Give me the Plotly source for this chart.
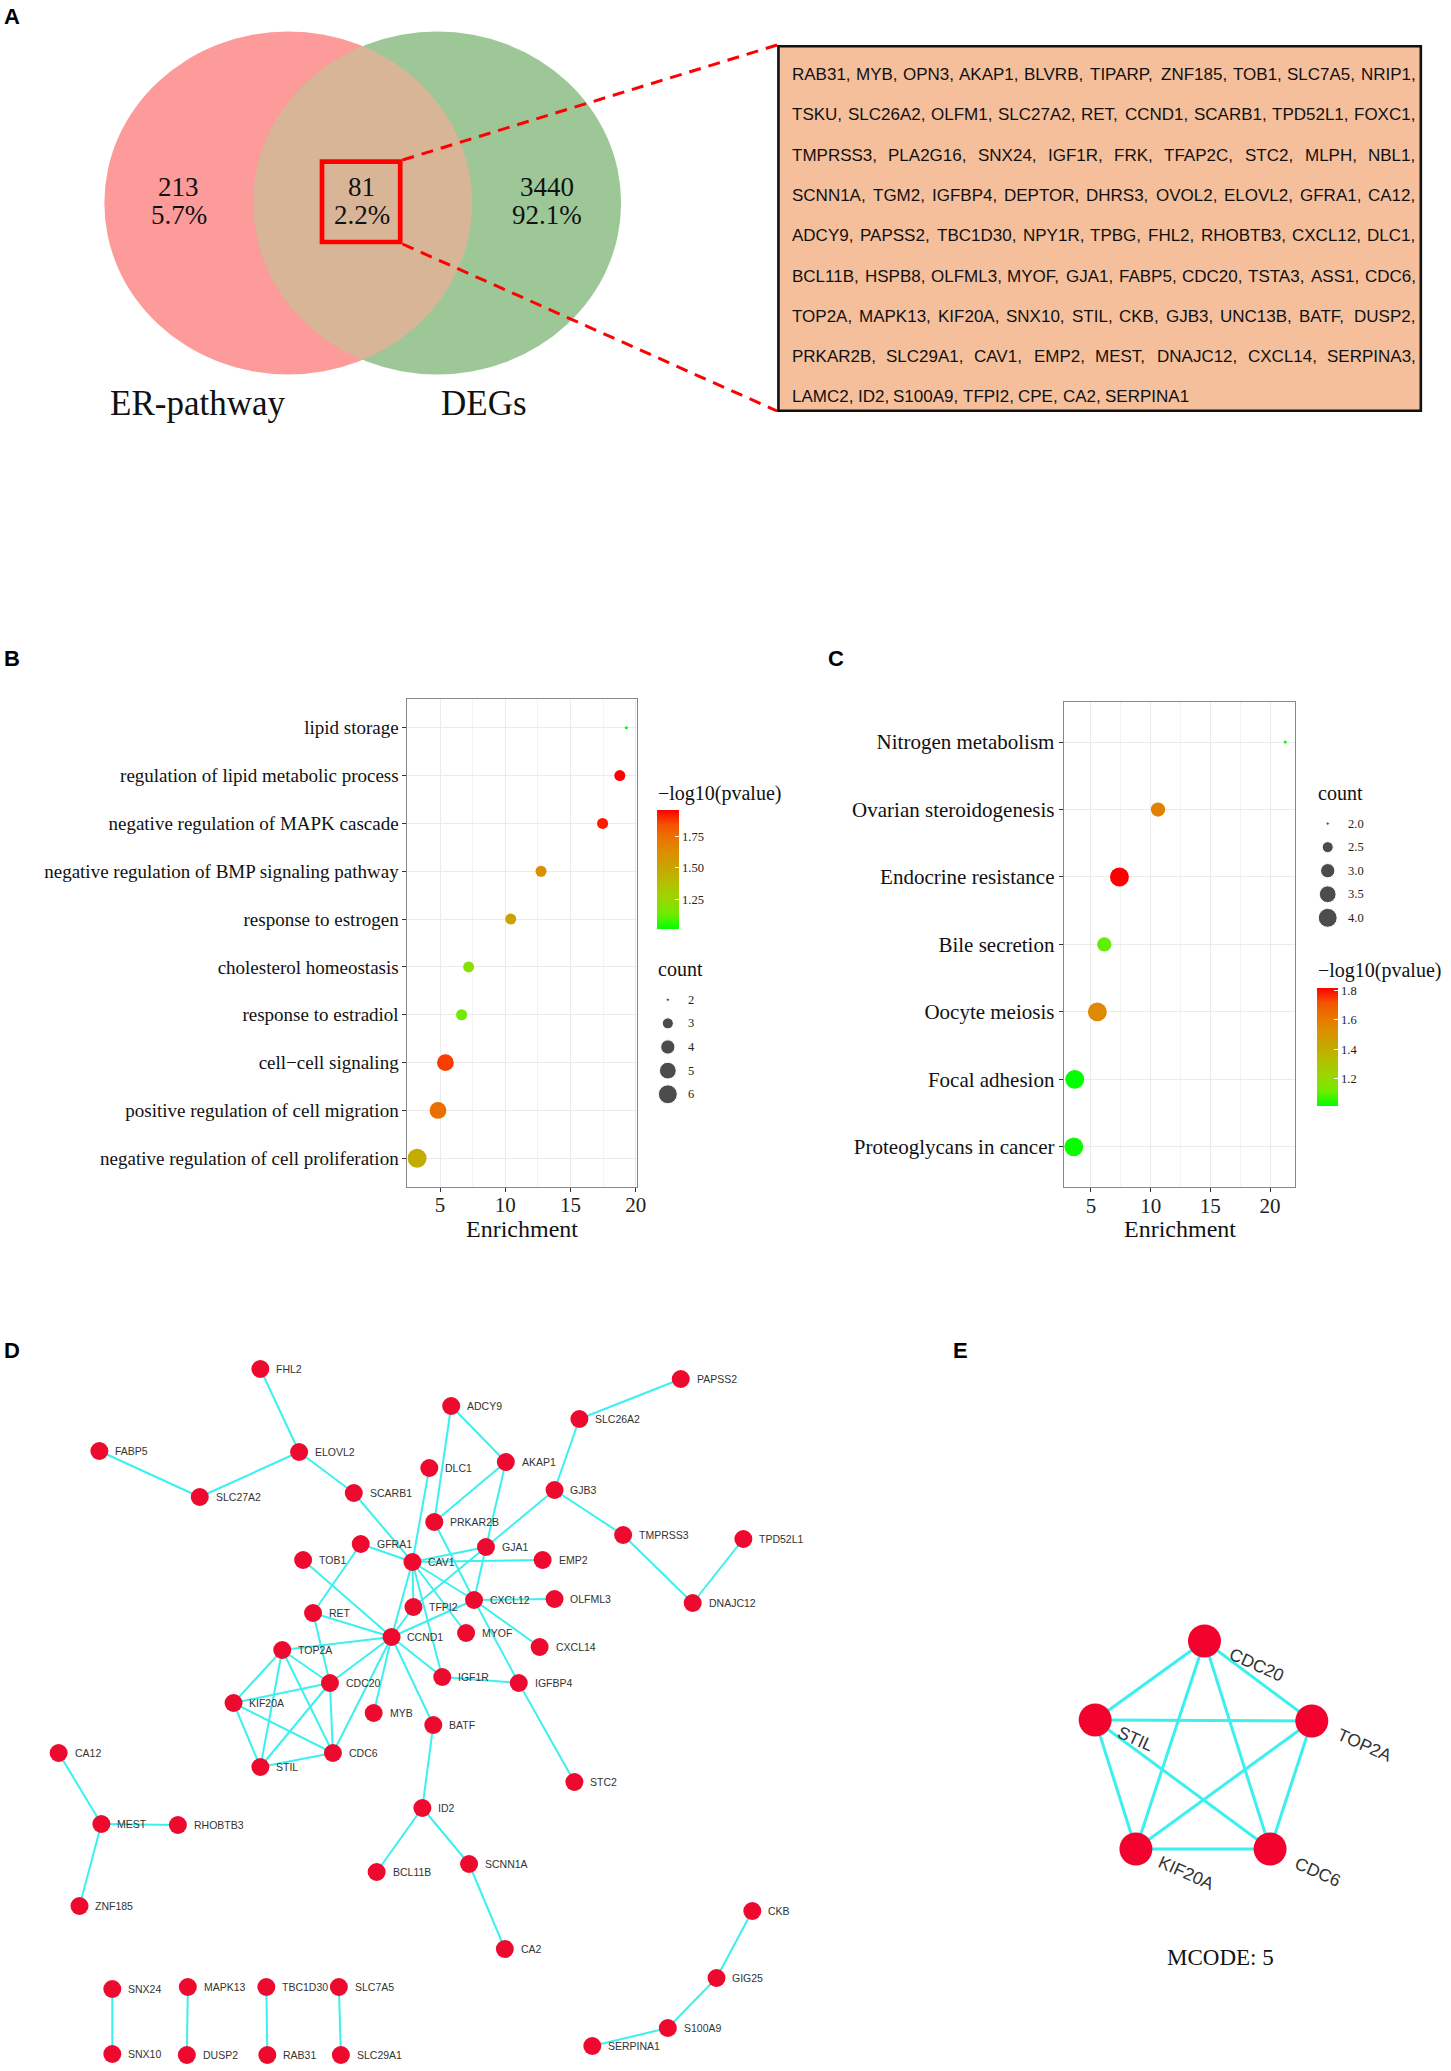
import numpy as np
import plotly.graph_objects as go

W, H = 1451, 2071

# ---------------- Panel A data ----------------
venn_set_names = ["ER-pathway", "DEGs"]
venn_counts = ["213", "81", "3440"]
venn_percents = ["5.7%", "2.2%", "92.1%"]
overlap_gene_lines = [
    "RAB31, MYB, OPN3, AKAP1, BLVRB, TIPARP, ZNF185, TOB1, SLC7A5, NRIP1,",
    "TSKU, SLC26A2, OLFM1, SLC27A2, RET, CCND1, SCARB1, TPD52L1, FOXC1,",
    "TMPRSS3, PLA2G16, SNX24, IGF1R, FRK, TFAP2C, STC2, MLPH, NBL1,",
    "SCNN1A, TGM2, IGFBP4, DEPTOR, DHRS3, OVOL2, ELOVL2, GFRA1, CA12,",
    "ADCY9, PAPSS2, TBC1D30, NPY1R, TPBG, FHL2, RHOBTB3, CXCL12, DLC1,",
    "BCL11B, HSPB8, OLFML3, MYOF, GJA1, FABP5, CDC20, TSTA3, ASS1, CDC6,",
    "TOP2A, MAPK13, KIF20A, SNX10, STIL, CKB, GJB3, UNC13B, BATF, DUSP2,",
    "PRKAR2B, SLC29A1, CAV1, EMP2, MEST, DNAJC12, CXCL14, SERPINA3,",
    "LAMC2, ID2, S100A9, TFPI2, CPE, CA2, SERPINA1",
]

# ---------------- Panel B data (GO) ----------------
go_terms = ["lipid storage", "regulation of lipid metabolic process",
            "negative regulation of MAPK cascade",
            "negative regulation of BMP signaling pathway",
            "response to estrogen", "cholesterol homeostasis",
            "response to estradiol", "cell\u2212cell signaling",
            "positive regulation of cell migration",
            "negative regulation of cell proliferation"]
go_enrichment = [19.28, 18.78, 17.46, 12.74, 10.42, 7.19, 6.65, 5.41, 4.84, 3.24]
go_count = [2, 3, 3, 3, 3, 3, 3, 5, 5, 6]
go_logp = [1.014, 1.967, 1.93, 1.62, 1.52, 1.20, 1.14, 1.88, 1.76, 1.47]
go_x_ticks = [5, 10, 15, 20]
go_count_ticks = [2, 3, 4, 5, 6]
go_logp_ticks = [1.25, 1.50, 1.75]

# ---------------- Panel C data (KEGG) ----------------
kegg_terms = ["Nitrogen metabolism", "Ovarian steroidogenesis",
              "Endocrine resistance", "Bile secretion", "Oocyte meiosis",
              "Focal adhesion", "Proteoglycans in cancer"]
kegg_enrichment = [21.27, 10.62, 7.39, 6.12, 5.54, 3.65, 3.57]
kegg_count = [2, 3, 4, 3, 4, 4, 4]
kegg_logp = [1.02, 1.58, 1.816, 1.10, 1.55, 1.013, 1.02]
kegg_x_ticks = [5, 10, 15, 20]
kegg_count_ticks = [2.0, 2.5, 3.0, 3.5, 4.0]
kegg_logp_ticks = [1.2, 1.4, 1.6, 1.8]

# ---------------- Panel D data (PPI network layout) ----------------
ppi_genes = ["FHL2", "FABP5", "ELOVL2", "SLC27A2", "SCARB1", "DLC1", "ADCY9", "PRKAR2B",
             "GFRA1", "TOB1", "CAV1", "RET", "TFPI2", "CCND1", "TOP2A", "CDC20",
             "KIF20A", "IGF1R", "MYB", "PAPSS2", "SLC26A2", "AKAP1", "GJB3", "TMPRSS3",
             "TPD52L1", "GJA1", "EMP2", "CXCL12", "OLFML3", "DNAJC12", "MYOF", "CXCL14",
             "IGFBP4", "BATF", "CA12", "CDC6", "STIL", "ID2", "MEST", "RHOBTB3",
             "BCL11B", "SCNN1A", "ZNF185", "SNX24", "MAPK13", "TBC1D30", "SLC7A5", "SNX10",
             "DUSP2", "RAB31", "SLC29A1", "STC2", "CA2", "CKB", "GIG25", "S100A9", "SERPINA1"]
ppi_x = [262, 100, 301, 201, 356, 432, 454, 437,
         363, 305, 415, 315, 416, 394, 284, 332,
         235, 445, 376, 685, 583, 509, 558, 627,
         748, 489, 546, 477, 558, 697, 469, 543,
         522, 436, 59, 335, 262, 425, 102, 179,
         379, 472, 80, 113, 189, 268, 341, 113,
         188, 269, 343, 578, 508, 757, 721, 672, 596]
ppi_y = [1369, 1451, 1452, 1497, 1493, 1468, 1406, 1522,
         1544, 1560, 1562, 1613, 1607, 1637, 1650, 1683,
         1703, 1677, 1713, 1379, 1419, 1462, 1490, 1535,
         1539, 1547, 1560, 1600, 1599, 1603, 1633, 1647,
         1683, 1725, 1753, 1753, 1767, 1808, 1824, 1825,
         1872, 1864, 1906, 1989, 1987, 1987, 1987, 2054,
         2055, 2055, 2055, 1782, 1949, 1911, 1978, 2028, 2046]
ppi_edges = [
    ("FHL2", "ELOVL2"), ("FABP5", "SLC27A2"), ("SLC27A2", "ELOVL2"), ("ELOVL2", "SCARB1"),
    ("SCARB1", "CAV1"), ("DLC1", "CAV1"), ("ADCY9", "PRKAR2B"), ("ADCY9", "AKAP1"),
    ("AKAP1", "PRKAR2B"), ("AKAP1", "GJA1"), ("GJA1", "CXCL12"), ("PRKAR2B", "CXCL12"),
    ("GJA1", "GJB3"), ("GJB3", "SLC26A2"), ("SLC26A2", "PAPSS2"), ("GJB3", "TMPRSS3"),
    ("TMPRSS3", "DNAJC12"), ("DNAJC12", "TPD52L1"), ("CAV1", "GJA1"), ("CAV1", "EMP2"),
    ("CAV1", "CXCL12"), ("CAV1", "MYOF"), ("CAV1", "TFPI2"), ("CAV1", "CCND1"),
    ("CAV1", "IGF1R"), ("CAV1", "GFRA1"), ("GJA1", "TFPI2"), ("CXCL12", "OLFML3"),
    ("CXCL12", "CXCL14"), ("CXCL12", "IGFBP4"), ("CXCL12", "CCND1"), ("IGF1R", "IGFBP4"),
    ("IGFBP4", "STC2"), ("TFPI2", "CCND1"), ("TOB1", "CCND1"), ("GFRA1", "RET"),
    ("RET", "CDC20"), ("RET", "CCND1"), ("TOP2A", "CCND1"), ("TOP2A", "CDC20"),
    ("TOP2A", "KIF20A"), ("TOP2A", "STIL"), ("TOP2A", "CDC6"), ("CDC20", "KIF20A"),
    ("CDC20", "STIL"), ("CDC20", "CDC6"), ("CCND1", "CDC20"), ("CCND1", "CDC6"),
    ("CCND1", "MYB"), ("CCND1", "IGF1R"), ("CCND1", "BATF"), ("KIF20A", "STIL"),
    ("KIF20A", "CDC6"), ("STIL", "CDC6"), ("BATF", "ID2"), ("ID2", "BCL11B"),
    ("ID2", "SCNN1A"), ("SCNN1A", "CA2"), ("CA12", "MEST"), ("MEST", "RHOBTB3"),
    ("MEST", "ZNF185"), ("SNX24", "SNX10"), ("MAPK13", "DUSP2"), ("TBC1D30", "RAB31"),
    ("SLC7A5", "SLC29A1"), ("CKB", "GIG25"), ("GIG25", "S100A9"), ("S100A9", "SERPINA1"),
]

# ---------------- Panel E data (MCODE cluster) ----------------
mcode_genes = ["CDC20", "TOP2A", "CDC6", "KIF20A", "STIL"]
mcode_x = [1212, 1320, 1278, 1143, 1102]
mcode_y = [1641, 1721, 1849, 1849, 1720]
mcode_score = 5

# ---------------- helpers ----------------
SERIF = "Liberation Serif, Times New Roman, serif"
SANS = "Liberation Sans, Arial, sans-serif"
NARROW = "Liberation Sans Narrow, Arial Narrow, Liberation Sans, Arial, sans-serif"

def px(x):
    return x / W

def py(y):
    return 1 - y / H

colorscale = [[0.0, "rgb(0,255,0)"], [0.125, "rgb(112,235,0)"], [0.25, "rgb(152,215,0)"],
              [0.375, "rgb(179,194,0)"], [0.5, "rgb(197,168,0)"], [0.625, "rgb(218,146,0)"],
              [0.75, "rgb(232,119,0)"], [0.875, "rgb(244,83,0)"], [1.0, "rgb(255,0,0)"]]

def size_px(counts, cmin, cmax):
    c = np.asarray(counts, dtype=float)
    return list(3.15 * (1 + 5 * np.sqrt((c - cmin) / (cmax - cmin))))

fig = go.Figure()
annotations = []
shapes = []

OV = dict(xref="x5", yref="y5")

# ================= Panel A =================
lcx, rcx, vcy, vrx, vry = 290, 440, 203, 185, 171.5
shapes.append(dict(type="circle", **OV, x0=lcx - vrx, x1=lcx + vrx, y0=vcy - vry, y1=vcy + vry,
                   fillcolor="#FD9B9B", line=dict(width=0), layer="below"))
shapes.append(dict(type="circle", **OV, x0=rcx - vrx, x1=rcx + vrx, y0=vcy - vry, y1=vcy + vry,
                   fillcolor="#9EC798", line=dict(width=0), layer="below"))
th = np.arccos(((lcx + rcx) / 2 - lcx) / vrx)
t1 = np.linspace(-th, th, 80)
t2 = np.linspace(np.pi - th, np.pi + th, 80)
xs = np.concatenate([lcx + vrx * np.cos(t1), rcx + vrx * np.cos(t2)])
ys = np.concatenate([vcy + vry * np.sin(t1), vcy + vry * np.sin(t2)])
lens = "M " + " L ".join(f"{a:.2f},{b:.2f}" for a, b in zip(xs, ys)) + " Z"
shapes.append(dict(type="path", **OV, path=lens, fillcolor="#D9B598", line=dict(width=0), layer="below"))

for cx, cnt, pct in zip([180, 364, 550], venn_counts, venn_percents):
    annotations.append(dict(**OV, x=cx, y=187, text=cnt, showarrow=False,
                            font=dict(family=SERIF, size=27, color="#111")))
    annotations.append(dict(**OV, x=cx, y=215, text=pct, showarrow=False,
                            font=dict(family=SERIF, size=27, color="#111")))
for cx, nm in zip([199, 487], venn_set_names):
    annotations.append(dict(**OV, x=cx, y=403, text=nm, showarrow=False,
                            font=dict(family=SERIF, size=35, color="#111")))

# zoom box + dashed connectors + gene box
shapes.append(dict(type="rect", **OV, x0=324, x1=402.7, y0=161.7, y1=242,
                   line=dict(color="#FF0000", width=4.7)))
shapes.append(dict(type="line", **OV, x0=405, y0=160, x1=782, y1=45,
                   line=dict(color="#FF0000", width=3, dash="12px,8px")))
shapes.append(dict(type="line", **OV, x0=405, y0=244, x1=782, y1=411,
                   line=dict(color="#FF0000", width=3, dash="12px,8px")))
shapes.append(dict(type="rect", **OV, x0=783.3, x1=1429.7, y0=46.3, y1=410.8,
                   fillcolor="#F6BF9B", line=dict(color="#111", width=2.6)))

AW = {"A": .667, "B": .667, "C": .722, "D": .722, "E": .667, "F": .611, "G": .778, "H": .722,
      "I": .278, "J": .5, "K": .667, "L": .556, "M": .833, "N": .722, "O": .778, "P": .667,
      "Q": .778, "R": .722, "S": .667, "T": .611, "U": .722, "V": .667, "W": .944, "X": .667,
      "Y": .667, "Z": .611, ",": .278, " ": .278}
GFS = 17
def text_w(s):
    return sum(AW.get(ch, .556) for ch in s) * GFS

tx0, tx1 = 796, 1423
for i, line in enumerate(overlap_gene_lines):
    words = line.split(" ")
    widths = [text_w(w) for w in words]
    last = i == len(overlap_gene_lines) - 1
    gap = AW[" "] * GFS if last else (tx1 - tx0 - sum(widths)) / (len(words) - 1)
    xcur = tx0
    yl = 74.5 + 40.3 * i
    for w, wd in zip(words, widths):
        annotations.append(dict(**OV, x=xcur - 1, y=yl, text=w, showarrow=False, xanchor="left",
                                font=dict(family=SANS, size=GFS, color="#111")))
        xcur += wd + gap

# ================= Panel B =================
fig.add_trace(go.Scatter(
    x=go_enrichment, y=go_terms, mode="markers", xaxis="x", yaxis="y", showlegend=False,
    marker=dict(size=size_px(go_count, 2, 6), color=go_logp, colorscale=colorscale,
                cmin=1.014, cmax=1.967, line=dict(width=0), opacity=1,
                colorbar=dict(x=px(661.2), xanchor="left", xpad=0, y=py((809.7 + 928.5) / 2),
                              yanchor="middle", ypad=0, len=118.8, lenmode="pixels",
                              thickness=21.8, thicknessmode="pixels", outlinewidth=0,
                              tickvals=go_logp_ticks, ticktext=[f"{v:.2f}" for v in go_logp_ticks],
                              ticks="inside", ticklen=4, tickcolor="white", tickwidth=1,
                              tickfont=dict(family=SERIF, size=12.5, color="#222")))))

fig.add_trace(go.Scatter(
    x=[672] * len(go_count_ticks), y=go_count_ticks, mode="markers", xaxis="x3", yaxis="y3",
    showlegend=False, marker=dict(size=size_px(go_count_ticks, 2, 6), color="black")))
for v in go_count_ticks:
    annotations.append(dict(xref="x3", yref="y3", x=690, y=v, text=str(v), showarrow=False,
                            xanchor="left", font=dict(family=SERIF, size=12.5, color="#222")))
annotations.append(dict(**OV, x=660, y=793, text="\u2212log10(pvalue)", showarrow=False, xanchor="left",
                        font=dict(family=SERIF, size=20, color="#111")))
annotations.append(dict(**OV, x=660, y=969, text="count", showarrow=False, xanchor="left",
                        font=dict(family=SERIF, size=20, color="#111")))
annotations.append(dict(**OV, x=525.5, y=1229, text="Enrichment", showarrow=False,
                        font=dict(family=SERIF, size=24, color="#111")))

# ================= Panel C =================
fig.add_trace(go.Scatter(
    x=kegg_enrichment, y=kegg_terms, mode="markers", xaxis="x2", yaxis="y2", showlegend=False,
    marker=dict(size=size_px(kegg_count, 2, 4), color=kegg_logp, colorscale=colorscale,
                cmin=1.013, cmax=1.816, line=dict(width=0), opacity=1,
                colorbar=dict(x=px(1325.4), xanchor="left", xpad=0, y=py((988.2 + 1105.8) / 2),
                              yanchor="middle", ypad=0, len=117.6, lenmode="pixels",
                              thickness=21.3, thicknessmode="pixels", outlinewidth=0,
                              tickvals=kegg_logp_ticks, ticktext=[f"{v:.1f}" for v in kegg_logp_ticks],
                              ticks="inside", ticklen=4, tickcolor="white", tickwidth=1,
                              tickfont=dict(family=SERIF, size=12.5, color="#222")))))

fig.add_trace(go.Scatter(
    x=[1336] * len(kegg_count_ticks), y=kegg_count_ticks, mode="markers", xaxis="x4", yaxis="y4",
    showlegend=False, marker=dict(size=size_px(kegg_count_ticks, 2, 4), color="black")))
for v in kegg_count_ticks:
    annotations.append(dict(xref="x4", yref="y4", x=1354, y=v, text=f"{v:.1f}", showarrow=False,
                            xanchor="left", font=dict(family=SERIF, size=12.5, color="#222")))
annotations.append(dict(**OV, x=1324, y=793, text="count", showarrow=False, xanchor="left",
                        font=dict(family=SERIF, size=20, color="#111")))
annotations.append(dict(**OV, x=1324, y=970, text="\u2212log10(pvalue)", showarrow=False, xanchor="left",
                        font=dict(family=SERIF, size=20, color="#111")))
annotations.append(dict(**OV, x=1187, y=1229, text="Enrichment", showarrow=False,
                        font=dict(family=SERIF, size=24, color="#111")))

# ================= Panel D =================
pos = {g: (x, y) for g, x, y in zip(ppi_genes, ppi_x, ppi_y)}
ex, ey = [], []
for a, b in ppi_edges:
    ex += [pos[a][0], pos[b][0], None]
    ey += [pos[a][1], pos[b][1], None]
fig.add_trace(go.Scatter(x=ex, y=ey, mode="lines", xaxis="x5", yaxis="y5", showlegend=False,
                         line=dict(color="#3CF0F0", width=2), hoverinfo="skip"))
fig.add_trace(go.Scatter(x=ppi_x, y=ppi_y, mode="markers", xaxis="x5", yaxis="y5", showlegend=False,
                         marker=dict(size=18, color="#EE0A2E", line=dict(width=0)), text=ppi_genes))
for g, x, y in zip(ppi_genes, ppi_x, ppi_y):
    annotations.append(dict(**OV, x=x + 14, y=y, text=g, showarrow=False, xanchor="left",
                            font=dict(family=NARROW, size=10.5, color="#333")))

# ================= Panel E =================
mpos = {g: (x, y) for g, x, y in zip(mcode_genes, mcode_x, mcode_y)}
mx, my = [], []
for i in range(len(mcode_genes)):
    for j in range(i + 1, len(mcode_genes)):
        a, b = mcode_genes[i], mcode_genes[j]
        mx += [mpos[a][0], mpos[b][0], None]
        my += [mpos[a][1], mpos[b][1], None]
fig.add_trace(go.Scatter(x=mx, y=my, mode="lines", xaxis="x5", yaxis="y5", showlegend=False,
                         line=dict(color="#3CF0F0", width=3), hoverinfo="skip"))
fig.add_trace(go.Scatter(x=mcode_x, y=mcode_y, mode="markers", xaxis="x5", yaxis="y5", showlegend=False,
                         marker=dict(size=33, color="#F2022C", line=dict(width=0)), text=mcode_genes))
mlab_dx = [53, 53, 48, 51, 41]
mlab_dy = [24, 24, 23, 24, 19]
for g, x, y, dx, dy in zip(mcode_genes, mcode_x, mcode_y, mlab_dx, mlab_dy):
    annotations.append(dict(**OV, x=x + dx, y=y + dy, text=g, showarrow=False, textangle=24,
                            font=dict(family=SANS, size=17.5, color="#333")))
annotations.append(dict(**OV, x=1228, y=1957, text=f"MCODE: {mcode_score}", showarrow=False,
                        font=dict(family=SERIF, size=23, color="#111")))

# ================= panel letters =================
for letter, x, y in [("A", 2, 16), ("B", 2, 658), ("C", 831, 658), ("D", 2, 1350), ("E", 957, 1350)]:
    annotations.append(dict(**OV, x=x, y=y, text=f"<b>{letter}</b>", showarrow=False, xanchor="left",
                            font=dict(family=SANS, size=22, color="#000")))

# ================= layout =================
def enrich_x(domain_px, rng, ticks, minor):
    return dict(domain=[px(domain_px[0]), px(domain_px[1])], range=rng, tickvals=ticks,
                ticks="outside", ticklen=4, tickcolor="#333", tickwidth=1, ticklabelstandoff=-5,
                tickfont=dict(family=SERIF, size=21, color="#222"),
                showgrid=True, gridcolor="#EBEBEB", gridwidth=1.2,
                minor=dict(tickvals=minor, showgrid=True, gridcolor="#F3F3F3", gridwidth=1, ticks=""),
                showline=True, mirror=True, linecolor="#888", linewidth=1, zeroline=False,
                fixedrange=True)

def enrich_y(domain_px, terms, anchor, fs):
    return dict(domain=[py(domain_px[1]), py(domain_px[0])], type="category",
                categoryorder="array", categoryarray=list(reversed(terms)),
                range=[-0.6, len(terms) - 0.4], ticks="outside", ticklen=4, tickcolor="#333",
                tickwidth=1, tickfont=dict(family=SERIF, size=fs, color="#111"),
                showgrid=True, gridcolor="#EBEBEB", gridwidth=1.2,
                showline=True, mirror=True, linecolor="#888", linewidth=1, zeroline=False,
                anchor=anchor, fixedrange=True)

fig.update_layout(
    width=W, height=H, autosize=False,
    margin=dict(l=0, r=0, t=0, b=0, pad=0),
    paper_bgcolor="white", plot_bgcolor="rgba(0,0,0,0)",
    showlegend=False,
    xaxis=dict(**enrich_x((410, 641), [2.5, 20.1], go_x_ticks, [7.5, 12.5, 17.5]), anchor="y"),
    yaxis=enrich_y((699, 1187), go_terms, "x", 19),
    xaxis2=dict(**enrich_x((1070.3, 1303.5), [2.72, 22.12], kegg_x_ticks, [7.5, 12.5, 17.5]), anchor="y2"),
    yaxis2=enrich_y((701.6, 1187.3), kegg_terms, "x2", 21),
    xaxis3=dict(domain=[px(662), px(720)], range=[662, 720], visible=False, anchor="y3", fixedrange=True),
    yaxis3=dict(domain=[py(1106.1), py(987.9)], range=[6.5, 1.5], visible=False, anchor="x3", fixedrange=True),
    xaxis4=dict(domain=[px(1326), px(1390)], range=[1326, 1390], visible=False, anchor="y4", fixedrange=True),
    yaxis4=dict(domain=[py(929.6), py(811.8)], range=[4.25, 1.75], visible=False, anchor="x4", fixedrange=True),
    xaxis5=dict(domain=[0, 1], range=[0, W], visible=False, anchor="y5", fixedrange=True),
    yaxis5=dict(domain=[0, 1], range=[H, 0], visible=False, anchor="x5", fixedrange=True),
    shapes=shapes,
    annotations=annotations,
)

fig.write_html("out.html", config={"displayModeBar": False},
               post_script="document.body.style.margin='0';")
